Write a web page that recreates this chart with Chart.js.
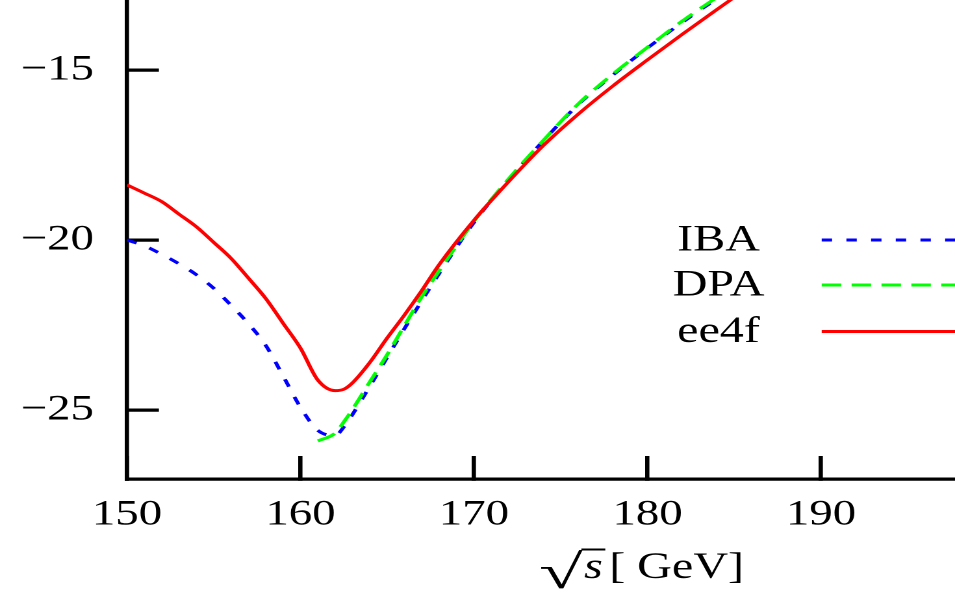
<!DOCTYPE html>
<html>
<head>
<meta charset="utf-8">
<script src="https://cdn.jsdelivr.net/npm/chart.js@4.4.1/dist/chart.umd.min.js"></script>
<style>
  html, body { margin: 0; padding: 0; background: #fff; overflow: hidden; }
  #wrap { width: 735px; height: 592px; transform: scaleX(1.29932); transform-origin: 0 0; }
  canvas { display: block; }
  #probe { position: absolute; left: -9999px; top: 0; font-family: "Liberation Serif"; font-size: 36px; }
</style>
</head>
<body>
<div id="probe">IBA 150 <i>s</i></div>
<div id="wrap"><canvas id="chart" width="735" height="592"></canvas></div>
<script>
// ---- data ----
const energies = [150, 151, 152, 153, 154, 155, 156, 157, 158, 159, 160, 161, 162, 162.5, 163, 164, 165, 166, 167, 168, 170, 172, 174, 176, 178, 180, 182, 184, 186];
const ibaValues = [-20.0, -20.17, -20.42, -20.7, -21.02, -21.42, -21.92, -22.46, -23.1, -24.0, -24.92, -25.6, -25.75, -25.5, -25.13, -24.3, -23.45, -22.6, -21.78, -20.98, -19.48, -18.23, -17.08, -16.02, -15.15, -14.35, -13.6, -12.9, -12.2];
const dpaValues = [null, null, null, null, null, null, null, null, null, null, null, -25.91, -25.68, -25.35, -24.98, -24.17, -23.37, -22.51, -21.66, -20.9, -19.45, -18.2, -17.07, -16.0, -15.12, -14.33, -13.56, -12.86, -12.18];
const ee4fValues = [-18.38, -18.62, -18.87, -19.24, -19.61, -20.07, -20.54, -21.12, -21.72, -22.45, -23.18, -24.12, -24.43, -24.39, -24.2, -23.6, -22.88, -22.2, -21.48, -20.72, -19.42, -18.28, -17.22, -16.3, -15.47, -14.7, -13.95, -13.22, -12.5];
const seriesNames = ['IBA', 'DPA', 'ee4f'];
const xTickValues = [150, 160, 170, 180, 190];
const yTickValues = [-25, -20, -15];
const xAxisTitle = ['\u221A', 's', '[ GeV]'];

const FONT = 'Liberation Serif';

function toPoints(values) {
  const pts = [];
  energies.forEach((e, i) => { if (values[i] !== null) pts.push({ x: e, y: values[i] }); });
  return pts;
}

const overlayPlugin = {
  id: 'overlay',
  afterDraw(chart) {
    const ctx = chart.ctx;
    ctx.save();
    const rows = [240, 285, 331.5];
    chart.data.datasets.forEach((ds, i) => {
      const y = rows[i];
      ctx.font = `37px "${FONT}"`;
      ctx.fillStyle = '#000';
      ctx.textAlign = 'center';
      ctx.textBaseline = 'middle';
      ctx.fillText(ds.label, 553, y + 1);
      ctx.strokeStyle = ds.borderColor;
      ctx.lineWidth = ds.borderWidth;
      ctx.setLineDash(ds.borderDash || []);
      ctx.beginPath();
      ctx.moveTo(632.4, y);
      ctx.lineTo(chart.width, y);
      ctx.stroke();
    });
    ctx.setLineDash([]);
    // x axis title
    const base = 578;
    let x = 415;
    ctx.textAlign = 'left';
    ctx.textBaseline = 'alphabetic';
    ctx.fillStyle = '#000';
    ctx.font = `48px "${FONT}"`;
    const rScale = 1.27;
    const rw = ctx.measureText(xAxisTitle[0]).width * rScale;
    ctx.save();
    ctx.translate(x, base + 10);
    ctx.scale(rScale, 1);
    ctx.fillText(xAxisTitle[0], 0, 0);
    ctx.restore();
    x += rw;
    ctx.font = `italic 37px "${FONT}"`;
    const sw = ctx.measureText(xAxisTitle[1]).width;
    ctx.fillText(xAxisTitle[1], x + 1, base);
    ctx.strokeStyle = '#000';
    ctx.lineWidth = 2;
    ctx.beginPath();
    ctx.moveTo(x - 1, 549.5);
    ctx.lineTo(x + sw + 3, 549.5);
    ctx.stroke();
    x += sw + 6;
    ctx.font = `37px "${FONT}"`;
    ctx.fillText(xAxisTitle[2], x, base);
    ctx.restore();
  }
};

function build() {
  new Chart(document.getElementById('chart'), {
    type: 'scatter',
    data: {
      datasets: [
        { label: seriesNames[0], data: toPoints(ibaValues), showLine: true, borderColor: '#0000ff', borderWidth: 3, borderDash: [8, 11], pointRadius: 0, order: 2, cubicInterpolationMode: 'monotone' },
        { label: seriesNames[1], data: toPoints(dpaValues), showLine: true, borderColor: '#00ff00', borderWidth: 3, borderDash: [15, 8], pointRadius: 0, order: 1, cubicInterpolationMode: 'monotone' },
        { label: seriesNames[2], data: toPoints(ee4fValues), showLine: true, borderColor: '#ff0000', borderWidth: 3, pointRadius: 0, order: 0, cubicInterpolationMode: 'monotone' }
      ]
    },
    options: {
      responsive: false,
      animation: false,
      devicePixelRatio: 2,
      layout: { padding: 0 },
      plugins: { legend: { display: false }, tooltip: { enabled: false }, title: { display: false } },
      scales: {
        x: {
          type: 'linear',
          min: 150,
          max: 197.72,
          border: { display: true, color: '#000', width: 3.3 },
          grid: { drawOnChartArea: false, drawTicks: true, tickLength: -23, color: '#000', lineWidth: 3.3 },
          ticks: { font: { family: '"' + FONT + '"', size: 36 }, color: '#000', padding: 37.4, autoSkip: false, maxRotation: 0, includeBounds: false },
          afterBuildTicks(scale) { scale.ticks = xTickValues.map(v => ({ value: v })); },
          afterFit(scale) { scale.height = 113; scale.paddingLeft = 0; scale.paddingRight = 0; }
        },
        y: {
          type: 'linear',
          min: -27.03,
          max: -12.94,
          border: { display: true, color: '#000', width: 3.3 },
          grid: { drawOnChartArea: false, drawTicks: true, tickLength: -24.6, color: '#000', lineWidth: 3.3 },
          ticks: {
            font: { family: '"' + FONT + '"', size: 36 }, color: '#000', padding: 50, autoSkip: false, includeBounds: false,
            callback: v => (v < 0 ? '\u2212' : '') + Math.abs(v)
          },
          afterBuildTicks(scale) { scale.ticks = yTickValues.map(v => ({ value: v })); },
          afterFit(scale) { scale.width = 97.7; scale.paddingTop = 0; scale.paddingBottom = 0; }
        }
      }
    },
    plugins: [overlayPlugin]
  });
}

Promise.all([
  document.fonts.load(`36px "${FONT}"`),
  document.fonts.load(`italic 36px "${FONT}"`)
]).then(build, build);
</script>
</body>
</html>
